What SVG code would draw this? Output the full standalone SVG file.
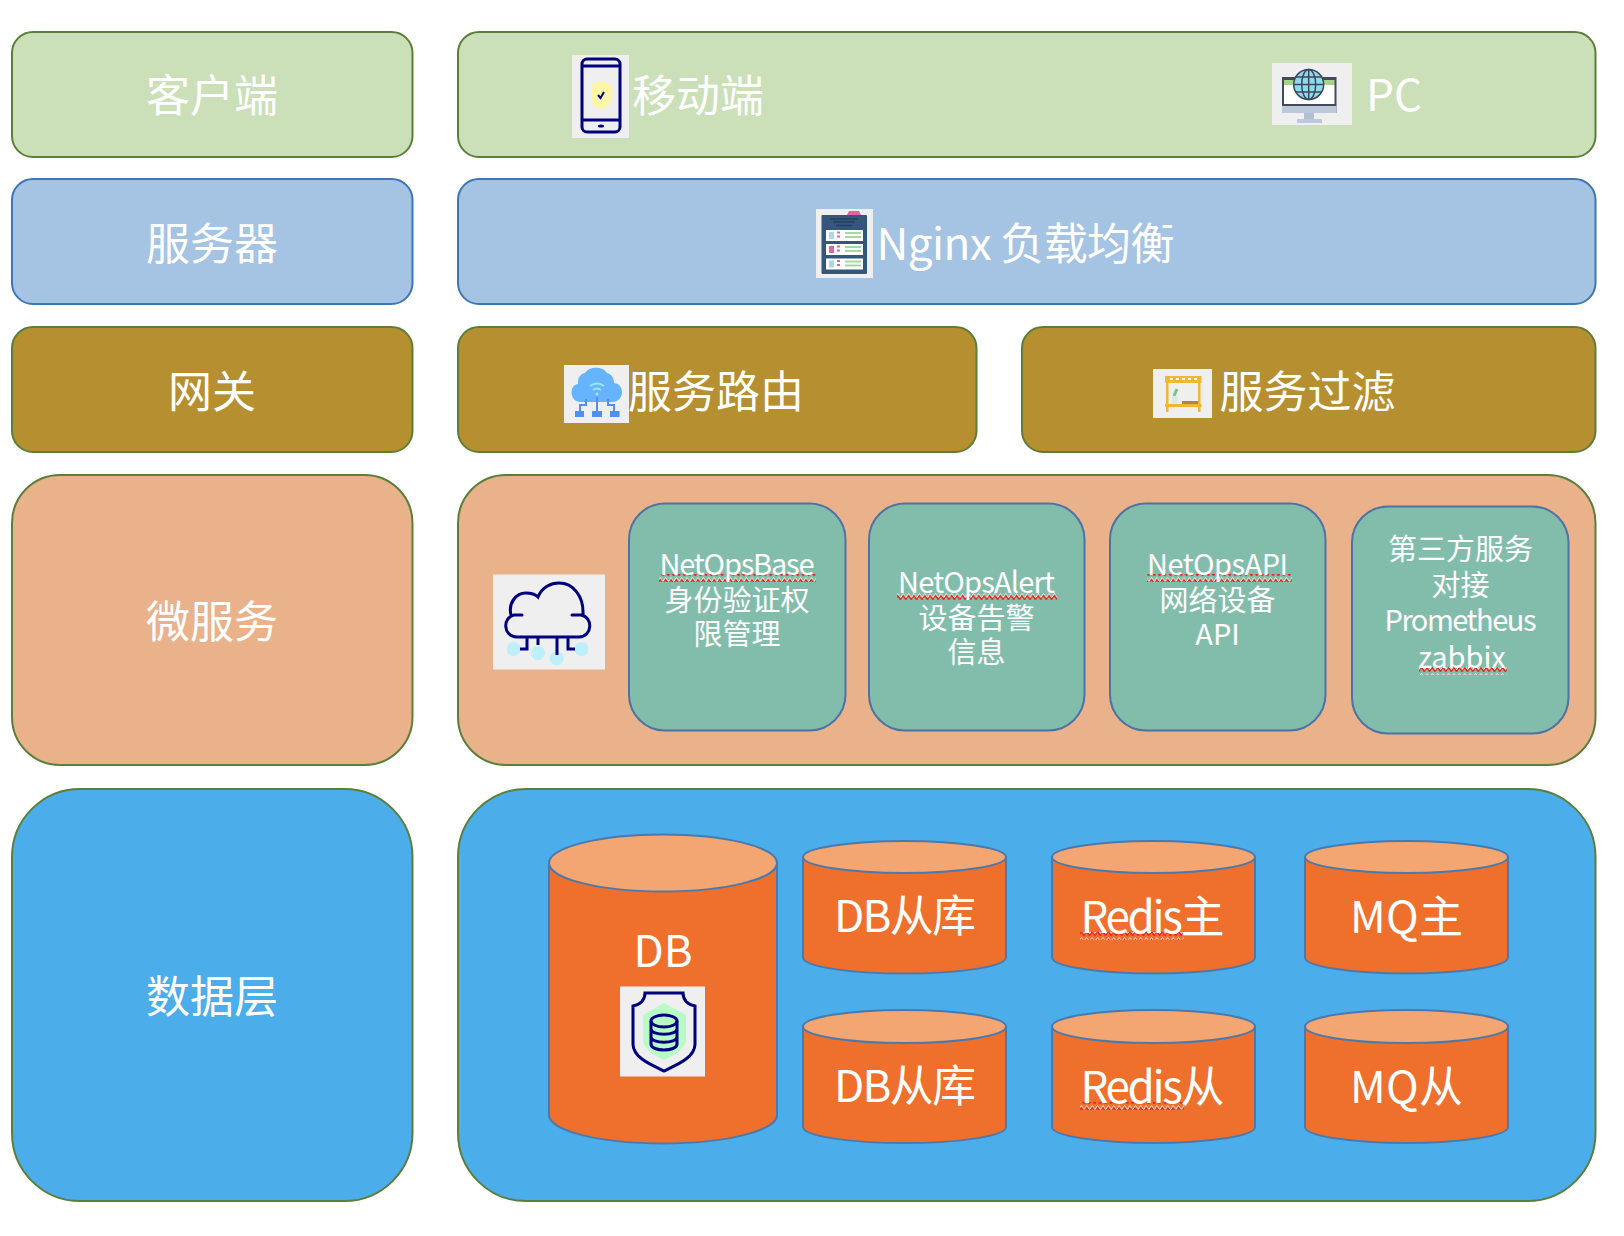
<svg xmlns="http://www.w3.org/2000/svg" width="1624" height="1236" viewBox="0 0 1624 1236">
<style>
text{font-family:"Noto Sans CJK SC","Noto Sans",sans-serif;fill:#fff;text-anchor:middle;font-weight:400}
.l{font-size:44px}.m{font-size:44px}.s{font-size:29px}
.g{fill:#cbdfb8;stroke:#5b7f3a;stroke-width:2}
.b{fill:#a5c3e2;stroke:#3e75b5;stroke-width:2}
.y{fill:#b58f30;stroke:#5b7f3a;stroke-width:2}
.o{fill:#e9b28a;stroke:#5b7f3a;stroke-width:2}
.d{fill:#4badea;stroke:#5b7f3a;stroke-width:2}
.t{fill:#82bdac;stroke:#4e72a6;stroke-width:2}
.ib{fill:#efefef}
.c{fill:#ef6f2c;stroke:#4a7aad;stroke-width:2}
.ct{fill:#f3a671;stroke:#4a7aad;stroke-width:2}
.n{fill:none;stroke:#00007f;stroke-width:3}
.w{fill:url(#wave)}
</style>
<defs>
<pattern id="wave" patternUnits="userSpaceOnUse" x="0" y="0" width="5.4" height="8">
<path d="M-1.35 4.5L0 5.500 1.35 3.500 2.700 5.500 4.050 7.500 5.400 5.500 6.750 3.500" fill="none" stroke="#fff" stroke-width="1.200" transform="translate(0,-1.500)"/>
<path d="M0 5.500L1.350 3.500 2.700 5.500 4.050 7.500 5.400 5.500" fill="none" stroke="#e8281c" stroke-width="1.500"/>
</pattern>
</defs>
<g id="client-label"><rect class="g" x="12" y="32" width="400.500" height="125" rx="21"/><text class="l" x="212" y="112">客户端</text></g>
<g id="client-row"><rect class="g" x="458" y="32" width="1137.500" height="125" rx="21"/>
<rect class="ib" x="572" y="55" width="57" height="83"/>
<rect class="n" x="582" y="59" width="38" height="73" rx="5"/><path class="n" d="M582 66H620M582 120H620"/>
<path d="M601 81l10 4v16q-2 6-10 8q-8-2-10-8V85z" fill="#fdf6a8"/><path d="M598 95l2.500 3 3.500-6" fill="none" stroke="#00007f" stroke-width="2"/>
<ellipse cx="601" cy="126" rx="3" ry="1.500" fill="#00007f"/>
<text class="l" x="698" y="112">移动端</text>
<rect class="ib" x="1272" y="63" width="80" height="62"/>
<rect x="1282" y="77" width="54.500" height="36" fill="#454a5a"/><rect x="1284" y="85" width="50.500" height="19" fill="#fff"/><rect x="1284" y="80" width="50.500" height="5" fill="#a5d58b"/><rect x="1282" y="106" width="54.500" height="7" fill="#bcc9da"/>
<rect x="1304" y="113" width="10" height="6" fill="#b3c0d1"/><rect x="1297" y="119" width="25" height="4" fill="#bcc9da"/>
<g fill="none" stroke="#3c4858" stroke-width="1.500"><circle cx="1308.700" cy="84.500" r="15" fill="#8fd9ee"/><ellipse cx="1308.700" cy="84.500" rx="7" ry="15"/><path d="M1308.700 69.500v30M1294 84.500h29.500M1296 77h25.500M1296 92h25.500"/></g>
<text class="l" x="1394" y="111">PC</text></g>
<g id="server-label"><rect class="b" x="12" y="179" width="400.500" height="125" rx="21"/><text class="l" x="212" y="260">服务器</text></g>
<g id="server-row"><rect class="b" x="458" y="179" width="1137.500" height="125" rx="21"/>
<rect class="ib" x="816" y="209" width="57" height="69"/>
<path d="M847 215l2-4h10l2 4z" fill="#d9669f"/><rect x="821.500" y="215" width="45.500" height="59" rx="1" fill="#34567a"/>
<path d="M830 219h28M833 222h22M836 225.500h16" stroke="#27405c" stroke-width="1.500"/>
<g id="rack-cards"><rect x="826" y="230" width="37" height="11" fill="#fff"/><rect x="826" y="244" width="37" height="11" fill="#fff"/><rect x="826" y="258.500" width="37" height="11" fill="#fff"/>
<rect x="829" y="232" width="5" height="7" fill="#a9d8ee"/><rect x="829" y="246" width="5" height="7" fill="#d9669f"/><rect x="829" y="260.500" width="5" height="7" fill="#a9d8ee"/>
<path d="M845 233h16M845 237h16M845 247h16M845 251h16M845 261.500h16M845 265.500h16" stroke="#a8d8a0" stroke-width="2"/>
<path d="M837 232.500h3M837 236.500h3M837 246.500h3M837 250.500h3M837 261h3M837 265h3" stroke="#d9669f" stroke-width="2"/></g>
<text class="l" x="1025.500" y="260" textLength="298">Nginx 负载均衡</text></g>
<g id="gateway-label"><rect class="y" x="12" y="327" width="400.500" height="125" rx="21"/><text class="l" x="212" y="407.500">网关</text></g>
<g id="service-routing"><rect class="y" x="458" y="327" width="518.500" height="125" rx="21"/>
<rect class="ib" x="564" y="365" width="65" height="58"/>
<path d="M581 402c-12 0-12-17-3-18c-1-9 6-11 7-11c4-7 18-7 22 0c4 1 7 4 7 10c11 1 11 19-2 19z" fill="#66b3ff"/>
<path d="M590 386q7-5 14 0M593 390q4-3 8 0" fill="none" stroke="#9be8f5" stroke-width="2"/><circle cx="597" cy="394" r="1.500" fill="#9be8f5"/>
<path d="M597 397v15M586 399v6h-6v7M608 399v6h6v7" fill="none" stroke="#4f8ff7" stroke-width="2"/>
<g fill="#4f8ff7"><rect x="575" y="411" width="9" height="6"/><rect x="592" y="411" width="10" height="6"/><rect x="610" y="411" width="9.500" height="6"/></g>
<text class="l" x="716" y="407.500">服务路由</text></g>
<g id="service-filter"><rect class="y" x="1022" y="327" width="573.500" height="125" rx="21"/>
<rect class="ib" x="1153" y="369" width="59" height="49"/>
<rect x="1168" y="384" width="30" height="20" fill="#eef0ee"/><rect x="1182" y="401" width="17" height="4" fill="#b5824a"/>
<path d="M1177 389l-3 7" stroke="#7cc08a" stroke-width="3"/><path d="M1172 396h6v8h-6z" fill="#dfe9e2"/>
<g fill="#f2b632"><rect x="1165" y="376" width="36.500" height="7"/><rect x="1165" y="404" width="36.500" height="3"/><rect x="1166" y="383" width="2.500" height="29"/><rect x="1198" y="383" width="2.500" height="29"/></g>
<path d="M1170 379h3M1176 379h3M1182 379h3M1188 379h3M1194 379h3" stroke="#fff" stroke-width="2"/>
<text class="l" x="1307.500" y="407.500">服务过滤</text></g>
<g id="microservice-label"><rect class="o" x="12" y="475" width="400.500" height="290" rx="48"/><text class="l" x="212" y="638">微服务</text></g>
<g id="microservice-row"><rect class="o" x="458" y="475" width="1137.500" height="290" rx="48"/>
<rect class="ib" x="493" y="574.500" width="112" height="95"/>
<g fill="#bdf0fa"><ellipse cx="513.500" cy="649" rx="7" ry="7"/><ellipse cx="538" cy="653" rx="7" ry="7"/><ellipse cx="556.700" cy="658.500" rx="7" ry="7"/><ellipse cx="581.600" cy="649" rx="7" ry="7"/></g>
<path class="n" d="M522 615H514c-11 2-12 21 3 22H579c14-1 14-20 2-22H572M511 615c-3-12 5-22 15-22c5 0 9 1 12 4c4-10 13-14 21-14c14 0 25 13 24 32" stroke-linecap="round"/>
<path class="n" d="M527 637v12h-7M538 637v8M557 637v18M568 637v12h7"/></g>
<g id="netops-base"><rect class="t" x="629" y="503.500" width="216.500" height="227" rx="36"/><rect class="w" x="659" y="574" width="157" height="8"/>
<text class="s" x="737" y="574.500" textLength="155">NetOpsBase</text><text class="s" x="737" y="611">身份验证权</text><text class="s" x="737" y="645">限管理</text></g>
<g id="netops-alert"><rect class="t" x="869" y="503.500" width="215.500" height="227" rx="36"/><rect class="w" x="897" y="592" width="160" height="8"/>
<text class="s" x="976.500" y="592.500" textLength="157">NetOpsAlert</text><text class="s" x="976.500" y="629">设备告警</text><text class="s" x="976.500" y="663">信息</text></g>
<g id="netops-api"><rect class="t" x="1110" y="503.500" width="215.500" height="227" rx="36"/><rect class="w" x="1147" y="574" width="145" height="8"/>
<text class="s" x="1217.500" y="574.500" textLength="141">NetOpsAPI</text><text class="s" x="1217.500" y="611">网络设备</text><text class="s" x="1217.500" y="645">API</text></g>
<g id="third-party"><rect class="t" x="1352" y="506.500" width="216.500" height="227" rx="36"/><rect class="w" x="1419" y="667" width="88" height="8"/>
<text class="s" x="1460.500" y="560">第三方服务</text><text class="s" x="1460.500" y="596">对接</text><text class="s" x="1460.500" y="631" textLength="152">Prometheus</text><text class="s" x="1462" y="668">zabbix</text></g>
<g id="data-label"><rect class="d" x="12" y="789" width="400.500" height="412" rx="68"/><text class="l" x="212" y="1013">数据层</text></g>
<g id="data-row"><rect class="d" x="458" y="789" width="1137.500" height="412" rx="68"/></g>
<g id="db-main"><path class="c" d="M549 863V1115A114 28.500 0 0 0 777 1115V863z"/><ellipse class="ct" cx="663" cy="863" rx="114" ry="28.500"/>
<text class="m" x="663" y="967">DB</text><rect class="ib" x="620" y="986.500" width="85" height="90"/>
<path d="M664 1003l22 12v26q-3 11-22 19q-19-8-21-19V1015z" fill="#b9fbc8"/>
<path class="n" d="M645 993h38c0 7 5 12 12 13v38c0 13-16 20-31 27c-15-7-31-14-31-27v-38c7-1 12-6 12-13z"/>
<g class="n"><ellipse cx="664" cy="1021" rx="13" ry="6"/><path d="M651 1021v23c0 8 26 8 26 0v-23M651 1029c0 7 26 7 26 0M651 1037c0 7 26 7 26 0"/></g></g>
<g id="db-slave-1"><path class="c" d="M803 857V957.500A101 16 0 0 0 1006 957.500V857z"/><ellipse class="ct" cx="904.500" cy="857" rx="101.500" ry="16"/><text class="m" x="905" y="932" textLength="142">DB从库</text></g>
<g id="db-slave-2"><path class="c" d="M803 1026.500V1127A101 16 0 0 0 1006 1127V1026.500z"/><ellipse class="ct" cx="904.500" cy="1026.500" rx="101.500" ry="16.500"/><text class="m" x="905" y="1102" textLength="142">DB从库</text></g>
<g id="redis-master"><path class="c" d="M1052 857V957.500A101.500 16 0 0 0 1255 957.500V857z"/><ellipse class="ct" cx="1153.500" cy="857" rx="101.500" ry="16"/><rect class="w" x="1080" y="932" width="104" height="8"/><text class="m" x="1152.500" y="932.500" textLength="144">Redis主</text></g>
<g id="redis-slave"><path class="c" d="M1052 1026.500V1127A101.500 16 0 0 0 1255 1127V1026.500z"/><ellipse class="ct" cx="1153.500" cy="1026.500" rx="101.500" ry="16.500"/><rect class="w" x="1080" y="1102" width="104" height="8"/><text class="m" x="1152.500" y="1102.500" textLength="144">Redis从</text></g>
<g id="mq-master"><path class="c" d="M1305 857V957.500A101.500 16 0 0 0 1508 957.500V857z"/><ellipse class="ct" cx="1406.500" cy="857" rx="101.500" ry="16"/><text class="m" x="1406.500" y="932.500" textLength="113">MQ主</text></g>
<g id="mq-slave"><path class="c" d="M1305 1026.500V1127A101.500 16 0 0 0 1508 1127V1026.500z"/><ellipse class="ct" cx="1406.500" cy="1026.500" rx="101.500" ry="16.500"/><text class="m" x="1406.500" y="1102.500" textLength="113">MQ从</text></g>
</svg>
